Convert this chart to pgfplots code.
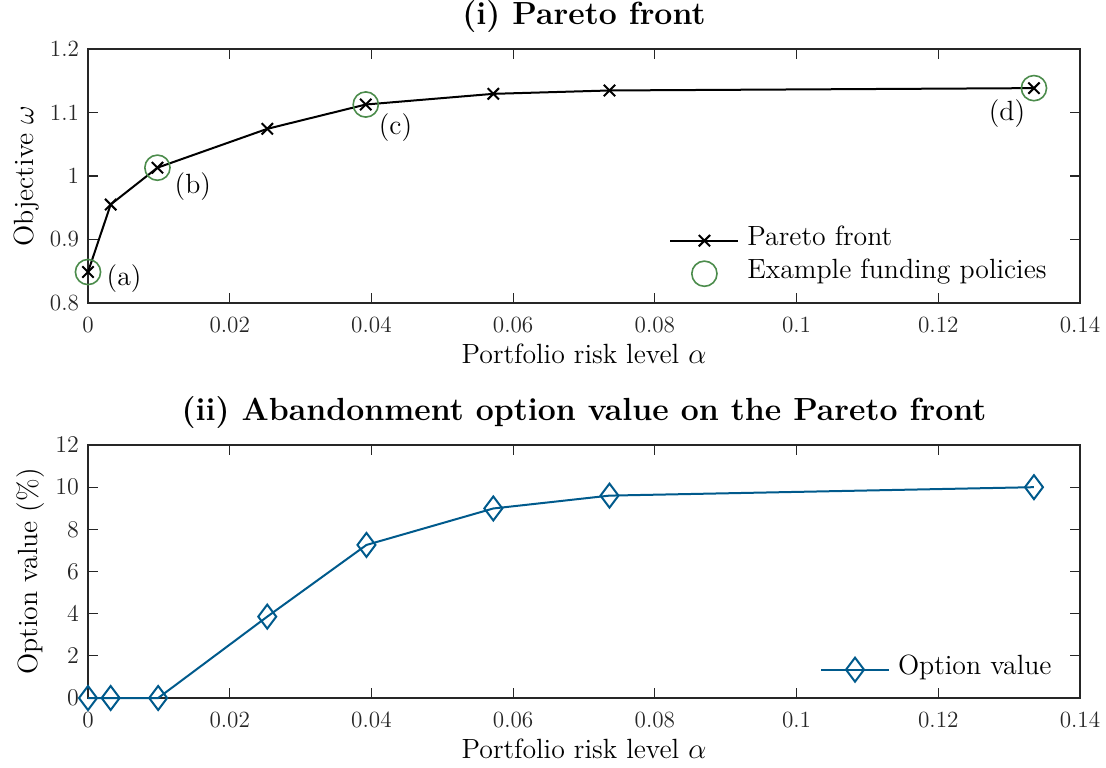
\documentclass[border=0pt]{standalone}
\usepackage{pgfplots}
\pgfplotsset{compat=1.18}

\definecolor{ovblue}{RGB}{0,90,140}
\definecolor{pgreen}{RGB}{76,140,76}
\definecolor{axgray}{RGB}{38,38,38}

% 1 px of the reference = 0.5pt
\pgfplotsset{
  frontstyle/.style={
    width=496pt, scale only axis,
    xmin=0, xmax=0.14,
    xtick={0,0.02,0.04,0.06,0.08,0.1,0.12,0.14},
    xticklabels={0,0.02,0.04,0.06,0.08,0.1,0.12,0.14},
    scaled ticks=false,
    clip=false,
    axis line style={axgray, line width=0.6pt},
    every tick/.style={axgray, line width=0.6pt},
    major tick length=5pt,
    tick align=inside,
    tick label style={font=\fontsize{11.6}{13}\selectfont, text=axgray},
    x tick label style={yshift=-3.6pt},
    y tick label style={xshift=-1pt},
    label style={font=\fontsize{13.9}{16}\selectfont},
    xlabel style={at={(axis description cs:0.5,-0.24)}, anchor=base},
    title style={font=\fontsize{16}{19}\selectfont\bfseries,
      at={(axis description cs:0.5,1)}, anchor=base, yshift=6.2pt},
    legend cell align=left,
    legend style={draw=none, fill=none, inner sep=0pt,
      font=\fontsize{13.9}{16}\selectfont,
      nodes={inner sep=2pt, text height=0.7em, text depth=0.2em},
      row sep=3.5pt, column sep=2pt},
  },
}

\begin{document}
\begin{tikzpicture}
\useasboundingbox (-44pt,-232pt) rectangle (509pt,151.5pt);

% (i) Pareto front
\begin{axis}[frontstyle,
  at={(0pt,0pt)}, height=127pt,
  ymin=0.8, ymax=1.2,
  ytick={0.8,0.9,1,1.1,1.2},
  yticklabels={0.8,0.9,1,1.1,1.2},
  title={(i) Pareto front},
  xlabel={Portfolio risk level $\alpha$},
  ylabel={Objective $\omega$},
  ylabel style={at={(axis description cs:-0.055,0.5)}, anchor=base},
  legend style={at={(0.5857,0.298)}, anchor=north west},
]
\addplot[black, line width=1pt, mark=x, mark size=4pt,
  mark options={line width=1pt},
  legend image code/.code={\draw[mark repeat=2, mark phase=2]
    plot coordinates {(0pt,0pt) (17pt,0pt) (34pt,0pt)};}]
  coordinates {
  (0,0.8488) (0.0032,0.9551) (0.0098,1.0131) (0.0253,1.0743)
  (0.0392,1.1126) (0.0572,1.1294) (0.0736,1.1347) (0.1335,1.1384)
};
\addlegendentry{Pareto front}
\addplot[only marks, pgreen, mark=o, mark size=6.3pt,
  mark options={line width=0.8pt},
  legend image code/.code={\draw plot[only marks] coordinates {(17pt,0pt)};}]
  coordinates {
  (0,0.8488) (0.0098,1.0131) (0.0392,1.1126) (0.1335,1.1384)
};
\addlegendentry{Example funding policies}

\node[font=\fontsize{13.9}{16}\selectfont] at (axis cs:0.0051,0.839) {(a)};
\node[font=\fontsize{13.9}{16}\selectfont] at (axis cs:0.0148,0.983) {(b)};
\node[font=\fontsize{13.9}{16}\selectfont] at (axis cs:0.0434,1.076) {(c)};
\node[font=\fontsize{13.9}{16}\selectfont] at (axis cs:0.1297,1.099) {(d)};
\end{axis}

% (ii) Abandonment option value
\begin{axis}[frontstyle,
  at={(0pt,-197.5pt)}, height=126.5pt,
  ymin=0, ymax=12,
  ytick={0,2,4,6,8,10,12},
  title={(ii) Abandonment option value on the Pareto front},
  xlabel={Portfolio risk level $\alpha$},
  ylabel={Option value (\%)},
  ylabel style={at={(axis description cs:-0.051,0.5)}, anchor=base},
  legend style={at={(0.7375,0.165)}, anchor=north west},
]
\addplot[ovblue, line width=1pt, mark=diamond, mark size=6pt,
  mark options={line width=1pt, fill=none},
  legend image code/.code={\draw[mark repeat=2, mark phase=2]
    plot coordinates {(0pt,0pt) (17pt,0pt) (34pt,0pt)};}]
  coordinates {
  (0,0) (0.0032,0) (0.0099,0) (0.0253,3.86)
  (0.0393,7.26) (0.0572,8.99) (0.0736,9.60) (0.1335,10.0)
};
\addlegendentry{Option value}
\end{axis}
\end{tikzpicture}
\end{document}
